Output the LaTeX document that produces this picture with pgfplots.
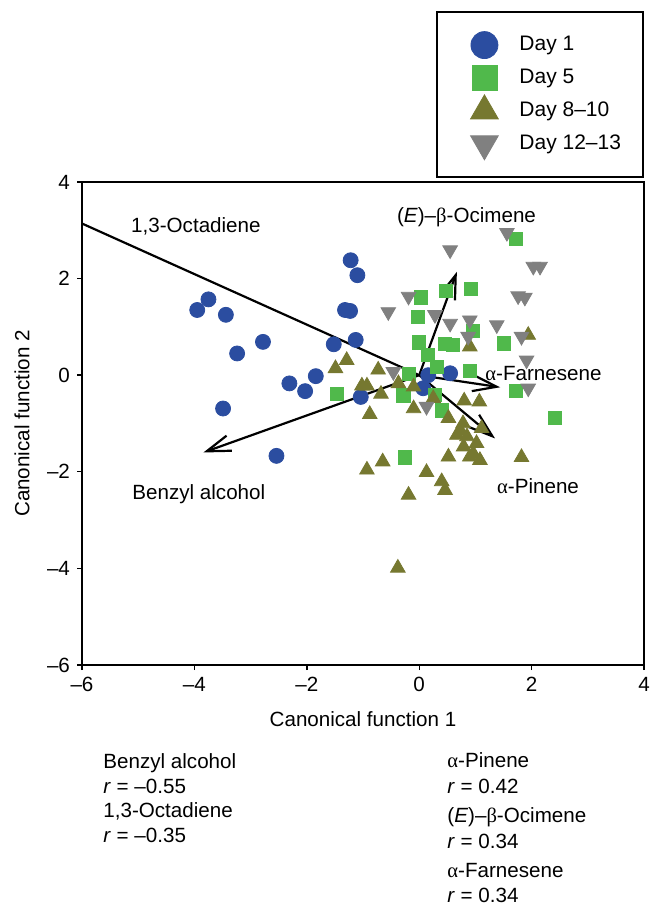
\documentclass[border=0pt]{standalone}
\usepackage{pgfplots}
\pgfplotsset{compat=1.18}
\usepackage{fontspec}
\setmainfont{Liberation Sans}
\newfontfamily\grk{Liberation Serif}
\usetikzlibrary{arrows.meta}

\definecolor{dayone}{RGB}{43,77,160}
\definecolor{dayfive}{RGB}{80,185,75}
\definecolor{dayeight}{RGB}{118,120,48}
\definecolor{daytwelve}{RGB}{128,128,128}
\newcommand\lbl{\fontsize{10.3pt}{12.4pt}\selectfont}

\begin{document}
\begin{tikzpicture}
\useasboundingbox (-41pt,-119.5pt) rectangle (283.5pt,332.5pt);
\begin{axis}[
  at={(0,0)}, anchor=south west,
  scale only axis, width=281pt, height=241.5pt,
  xmin=-6, xmax=4, ymin=-6, ymax=4,
  xtick={-6,-4,-2,0,2,4}, ytick={-6,-4,-2,0,2,4},
  xticklabels={–6,–4,–2,0,2,4}, yticklabels={–6,–4,–2,0,2,4},
  tick align=outside, xtick pos=left, ytick pos=left,
  major tick length=2.5pt,
  tick style={black, line width=0.7pt},
  axis line style={line width=0.7pt},
  ticklabel style={font=\lbl},
  xlabel={Canonical function 1}, ylabel={Canonical function 2},
  label style={font=\lbl},
  x label style={at={(axis description cs:0.5,-0.1263)}, anchor=base},
  y label style={at={(axis description cs:-0.1068,0.5)}, anchor=center},
  legend cell align=left,
  legend style={at={(1,1)}, anchor=south east, yshift=2pt, draw=black,
    line width=1pt, font=\fontsize{10.5pt}{12.6pt}\selectfont,
    inner xsep=9pt, inner ysep=8pt, row sep=-0.75pt, column sep=7.5pt},
  legend image code/.code={\draw[#1, line width=0.4pt] plot coordinates {(0pt,0pt)};
    \path (-14pt,-8.1pt) (7.5pt,8.1pt);},
]
\addlegendimage{only marks, mark=*, mark size=6.75pt, color=dayone}
\addlegendentry{Day 1}
\addlegendimage{only marks, mark=square*, mark size=6.25pt, color=dayfive}
\addlegendentry{Day 5}
\addlegendimage{only marks, mark=triangle*, mark size=8pt, color=dayeight}
\addlegendentry{Day 8–10}
\addlegendimage{only marks, mark=triangle*, mark size=8pt, color=daytwelve, mark options={rotate=180}}
\addlegendentry{Day 12–13}

% Day 1
\addplot[forget plot, only marks, mark=*, mark size=3.75pt, color=dayone] coordinates {
  (-1.22,2.38) (-1.10,2.07) (-3.75,1.57) (-3.95,1.35) (-3.44,1.25)
  (-1.32,1.35) (-1.23,1.33) (-2.78,0.69) (-3.24,0.45) (-1.13,0.73)
  (-1.52,0.64) (-1.84,-0.02) (-2.31,-0.17) (-2.03,-0.33) (-1.04,-0.45)
  (-3.49,-0.69) (-2.54,-1.67) (0.16,0.00) (0.55,0.04) (0.07,-0.27)
};
% Day 5
\addplot[forget plot, only marks, mark=square*, mark size=3.3pt, color=dayfive] coordinates {
  (1.72,2.83) (0.03,1.61) (0.47,1.75) (0.92,1.78) (-0.02,1.21)
  (0.95,0.92) (0.00,0.68) (0.45,0.65) (0.60,0.62) (1.51,0.66)
  (0.16,0.42) (0.31,0.18) (0.90,0.09) (-0.18,0.02) (-1.47,-0.39)
  (-0.28,-0.42) (0.28,-0.41) (0.40,-0.73) (1.72,-0.32) (2.42,-0.89)
  (-0.25,-1.70)
};
% Day 8-10
\addplot[forget plot, only marks, mark=triangle*, mark size=4.2pt, color=dayeight] coordinates {
  (-1.29,0.31) (-1.49,0.14) (-0.73,0.11) (-1.02,-0.22) (-0.93,-0.22)
  (-0.68,-0.39) (-0.88,-0.81) (-0.93,-1.96) (-0.65,-1.79) (1.94,0.83)
  (0.90,0.59) (-0.37,-0.17) (-0.10,-0.24) (0.25,-0.48) (0.80,-0.53)
  (1.07,-0.55) (-0.10,-0.69) (0.52,-0.89) (0.78,-1.00) (0.73,-1.14)
  (0.67,-1.24) (0.85,-1.27) (1.11,-1.10) (1.02,-1.41) (0.79,-1.48)
  (0.96,-1.62) (1.08,-1.76) (0.90,-1.69) (0.52,-1.69) (1.82,-1.70)
  (0.13,-2.01) (0.40,-2.20) (0.46,-2.38) (-0.19,-2.48) (-0.38,-3.99)
};
% Day 12-13
\addplot[forget plot, only marks, mark=triangle*, mark size=4.2pt, color=daytwelve, mark options={rotate=180}] coordinates {
  (1.56,2.95) (0.55,2.59) (2.03,2.25) (2.15,2.25) (-0.19,1.63)
  (-0.55,1.31) (0.28,1.25) (0.55,1.07) (0.90,1.14) (1.76,1.64)
  (1.88,1.61) (1.38,1.04) (0.87,0.80) (1.82,0.80) (1.91,0.31)
  (-0.46,0.07) (1.94,-0.27) (0.13,-0.65)
};

% loading vectors
\addplot[forget plot, no markers, black, line width=1.1pt] coordinates {(0,0) (-6,3.14)};
\addplot[forget plot, no markers, black, line width=1.1pt, -{Straight Barb[length=12pt,width=8pt]}] coordinates {(0,0) (-3.84,-1.60)};
\addplot[forget plot, no markers, black, line width=1.1pt, -{Straight Barb[length=12pt,width=8pt]}] coordinates {(0,0) (0.67,2.14)};
\addplot[forget plot, no markers, black, line width=1.1pt, -{Straight Barb[length=12pt,width=8pt]}] coordinates {(0,0) (1.44,-0.25)};
\addplot[forget plot, no markers, black, line width=1.1pt, -{Straight Barb[length=12pt,width=8pt]}] coordinates {(0,0) (1.35,-1.31)};

\node[anchor=base west, font=\lbl] at (axis cs:-5.25,2.95) {1,3-Octadiene};
\node[anchor=base west, font=\lbl] at (axis cs:-0.52,3.17) {(\textit{E})–{\grk β}-Ocimene};
\node[anchor=base west, font=\lbl, inner sep=0pt] at (axis cs:1.17,-0.10) {{\grk α}-Farnesene};
\node[anchor=base west, font=\lbl, inner sep=0pt] at (axis cs:1.38,-2.44) {{\grk α}-Pinene};
\node[anchor=base west, font=\lbl, inner sep=0pt] at (axis cs:-5.11,-2.58) {Benzyl alcohol};
\end{axis}

\begin{scope}[every node/.style={anchor=base west, inner sep=0pt, font=\lbl}]
\node at (10.5pt,-51.5pt) {Benzyl alcohol};
\node at (10.5pt,-64pt) {\textit{r} = –0.55};
\node at (10.5pt,-76pt) {1,3-Octadiene};
\node at (10.5pt,-88.5pt) {\textit{r} = –0.35};
\node at (182.5pt,-51pt) {{\grk α}-Pinene};
\node at (182.5pt,-64pt) {\textit{r} = 0.42};
\node at (182.5pt,-78.5pt) {(\textit{E})–{\grk β}-Ocimene};
\node at (182.5pt,-91.5pt) {\textit{r} = 0.34};
\node at (182.5pt,-106pt) {{\grk α}-Farnesene};
\node at (182.5pt,-118.5pt) {\textit{r} = 0.34};
\end{scope}
\end{tikzpicture}
\end{document}
